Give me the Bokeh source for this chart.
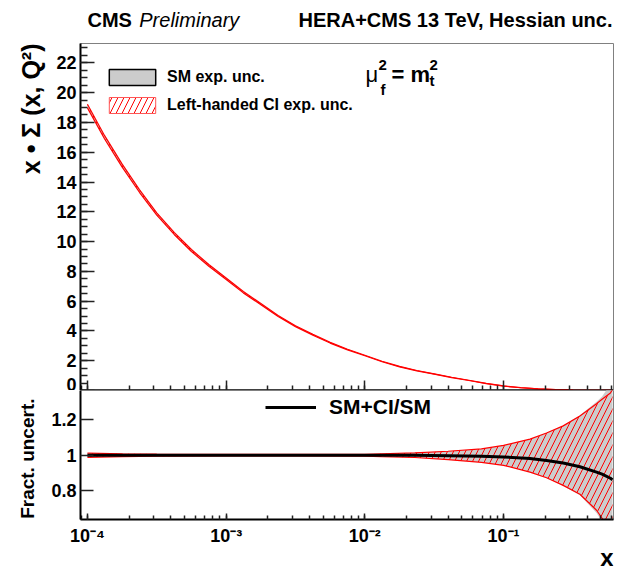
import math
from bokeh.plotting import figure
from bokeh.layouts import column, row
from bokeh.models import (ColumnDataSource, Range1d, FixedTicker, Label, Legend,
                          LegendItem, CustomJSTickFormatter)
from bokeh.core.properties import value
from bokeh.embed import file_html
from bokeh.resources import INLINE

FONT = "Liberation Sans"
NAN = float("nan")

# ---------------- data ----------------
x_top = [1e-4, 1.33e-4, 1.78e-4, 2.37e-4, 3.16e-4, 4.22e-4, 5.62e-4, 7.5e-4,
         1e-3, 1.33e-3, 1.78e-3, 2.37e-3, 3.16e-3, 4.22e-3, 5.62e-3, 7.5e-3,
         1e-2, 1.33e-2, 1.78e-2, 2.37e-2, 3.16e-2, 4.22e-2, 5.62e-2, 7.5e-2,
         0.1, 0.133, 0.178, 0.237, 0.316, 0.45, 0.61]
xsigma = [19.1, 17.0, 15.1, 13.4, 11.85, 10.55, 9.4, 8.4,
          7.5, 6.6, 5.8, 5.0, 4.32, 3.74, 3.21, 2.75,
          2.35, 1.95, 1.6, 1.33, 1.11, 0.88, 0.68, 0.47,
          0.30, 0.19, 0.11, 0.06, 0.03, 0.012, 0.004]
xsigma_unc = [0.12, 0.11, 0.10, 0.09, 0.08, 0.072, 0.065, 0.057,
              0.05, 0.045, 0.04, 0.035, 0.03, 0.027, 0.025, 0.022,
              0.02, 0.017, 0.015, 0.013, 0.012, 0.011, 0.01, 0.009,
              0.008, 0.006, 0.005, 0.004, 0.003, 0.002, 0.002]

x_ratio = [1e-4, 1.78e-4, 3.16e-4, 1e-3, 3.16e-3, 1e-2, 1.32e-2, 2.29e-2, 3.98e-2,
           6.92e-2, 0.1, 0.155, 0.204, 0.269, 0.355, 0.468, 0.513, 0.589, 0.61]
ratio_sm_ci = [1.0, 1.0, 1.0, 1.0, 1.0, 1.0, 1.0, 0.999, 0.997,
               0.994, 0.99, 0.981, 0.97, 0.956, 0.935, 0.905, 0.893, 0.870, 0.862]
ci_unc_up = [1.012, 1.008, 1.006, 1.004, 1.004, 1.005, 1.008, 1.013, 1.022,
             1.035, 1.055, 1.09, 1.125, 1.165, 1.22, 1.29, 1.315, 1.35, 1.37]
ci_unc_dn = [0.988, 0.992, 0.994, 0.996, 0.996, 0.995, 0.992, 0.987, 0.975,
             0.96, 0.943, 0.905, 0.873, 0.83, 0.78, 0.69, 0.645, 0.57, 0.55]
sm_unc_up = [1.012, 1.008, 1.006, 1.004, 1.004, 1.005, 1.008, 1.013, 1.022,
             1.035, 1.055, 1.09, 1.125, 1.167, 1.225, 1.30, 1.33, 1.40, 1.43]
sm_unc_dn = [0.988, 0.992, 0.994, 0.996, 0.996, 0.995, 0.992, 0.987, 0.975,
             0.96, 0.943, 0.905, 0.873, 0.828, 0.775, 0.675, 0.625, 0.53, 0.51]

y_ticks_top = [0, 2, 4, 6, 8, 10, 12, 14, 16, 18, 20, 22]
y_minor_top = [i * 0.5 for i in range(0, 47)]
y_ticks_bottom = [0.8, 1.0, 1.2]

# ---------------- sources ----------------
src_top = ColumnDataSource(dict(
    x=x_top, y=xsigma,
    lo=[v - u for v, u in zip(xsigma, xsigma_unc)],
    hi=[v + u for v, u in zip(xsigma, xsigma_unc)],
))
src_bot = ColumnDataSource(dict(
    x=x_ratio, r=ratio_sm_ci, ci_up=ci_unc_up, ci_dn=ci_unc_dn,
    sm_up=sm_unc_up, sm_dn=sm_unc_dn,
))

# ---------------- layout constants (pixels) ----------------
W, H = 617, 568
STRIP_W = 48            # left strip holding the rotated axis titles
MAIN_W = W - STRIP_W
BORDER_L = 78 - STRIP_W
BORDER_R = 4
HEAD_H = 43
TOP_H = 347
BOT_H = 158
FOOT_H = H - HEAD_H - TOP_H - BOT_H

x_range = Range1d(10 ** -4.05, 0.62)
GRAY = "#cccccc"
HATCH_SCALE = 12


def style_common(p):
    p.grid.visible = False
    p.outline_line_color = "#808080"
    p.outline_line_width = 1
    p.background_fill_color = "white"
    p.border_fill_color = "white"
    for ax in p.axis:
        ax.axis_line_color = "black"
        ax.axis_line_width = 2
        ax.major_tick_line_color = "#222222"
        ax.minor_tick_line_color = "#222222"
        ax.major_tick_line_width = 1.5
        ax.minor_tick_line_width = 1.5
        ax.major_tick_out = 0
        ax.minor_tick_out = 0
        ax.major_label_text_font = FONT
        ax.major_label_text_font_style = "bold"
        ax.major_label_text_color = "black"
        ax.major_label_text_font_size = "18px"


def blank(width, height, xr, yr):
    f = figure(width=width, height=height, x_range=xr, y_range=yr,
               x_axis_location=None, y_axis_location=None, output_backend="svg",
               toolbar_location=None, min_border=0, outline_line_color=None)
    f.grid.visible = False
    return f


def txt(f, x, y, s, size, style="bold", align="left", baseline="middle", angle=0.0):
    f.text(x=[x], y=[y], text=[s], text_font=value(FONT), text_font_style=style,
           text_font_size=size, text_align=align, text_baseline=baseline,
           text_color="black", angle=angle)


# ---------------- left strip: axis titles ----------------
strip = blank(STRIP_W, H, Range1d(0, STRIP_W), Range1d(0, H))
txt(strip, 30, H - 43, "x \u2022 \u03a3 (x, Q\u00b2)", "25px", align="right",
    angle=math.pi / 2)
txt(strip, 27, H - 398, "Fract. uncert.", "19px", align="right", angle=math.pi / 2)

# ---------------- header strip ----------------
p0 = blank(MAIN_W, HEAD_H, Range1d(78, 613), Range1d(HEAD_H, 0))
p0.min_border_left = BORDER_L
p0.min_border_right = BORDER_R
txt(p0, 85, 19, "CMS", "20px")
txt(p0, 137, 19, "Preliminary", "20px", style="italic")
txt(p0, 612, 19, "HERA+CMS 13 TeV, Hessian unc.", "20px", align="right")

# ---------------- top panel ----------------
p1 = figure(width=MAIN_W, height=TOP_H, x_axis_type="log", x_range=x_range,
            y_range=Range1d(0, 23.3), output_backend="svg", toolbar_location=None,
            min_border_left=BORDER_L, min_border_right=BORDER_R, min_border_top=0,
            min_border_bottom=0)
style_common(p1)
p1.yaxis.ticker = FixedTicker(ticks=y_ticks_top, minor_ticks=y_minor_top)
p1.yaxis.major_tick_in = 14
p1.yaxis.minor_tick_in = 7
p1.yaxis.major_label_standoff = 4
p1.xaxis.major_tick_in = 10
p1.xaxis.minor_tick_in = 5
p1.xaxis.formatter = CustomJSTickFormatter(code="return '';")
p1.xaxis.major_label_text_font_size = "1px"
p1.xaxis.major_label_standoff = -5

p1.varea(x="x", y1="lo", y2="hi", source=src_top, fill_color=GRAY)
p1.varea(x="x", y1="lo", y2="hi", source=src_top, fill_color=None, fill_alpha=0,
         hatch_pattern="/", hatch_color="red", hatch_scale=HATCH_SCALE, hatch_weight=1)
p1.line(x="x", y="lo", source=src_top, line_color="red", line_width=1.2)
p1.line(x="x", y="hi", source=src_top, line_color="red", line_width=1.2)

sm_key = p1.quad(left=[NAN], right=[NAN], top=[NAN], bottom=[NAN], fill_color=GRAY,
                 line_color="black", line_width=1.5)
ci_key = p1.quad(left=[NAN], right=[NAN], top=[NAN], bottom=[NAN], fill_color="white",
                 hatch_pattern="/", hatch_color="red", hatch_scale=HATCH_SCALE,
                 hatch_weight=1, line_color="#ff5555", line_width=1)
leg1 = Legend(items=[LegendItem(label="SM exp. unc.", renderers=[sm_key]),
                     LegendItem(label="Left-handed CI exp. unc.", renderers=[ci_key])],
              location=(23, 275), padding=0, margin=0, spacing=8,
              glyph_width=58, glyph_height=20, label_height=20, label_standoff=6,
              label_text_font=FONT, label_text_font_style="bold",
              label_text_font_size="16px", label_text_color="black",
              border_line_alpha=0, background_fill_alpha=0)
p1.add_layout(leg1)


def lab(p, text, x, y, size, style="bold"):
    p.add_layout(Label(x=x, y=y, x_units="screen", y_units="screen", text=text,
                       text_font=FONT, text_font_size=size, text_font_style=style,
                       text_color="black", text_align="left",
                       text_baseline="alphabetic"))


# scale label mu_f^2 = m_t^2
lab(p1, "\u03bc", 285, 316, "22px", style="normal")
lab(p1, "2", 298, 326, "15px")
lab(p1, "f", 300, 301, "15px")
lab(p1, "= m", 311, 316, "22px")
lab(p1, "2", 349, 326, "15px")
lab(p1, "t", 349, 310, "15px")

# ---------------- bottom panel ----------------
p2 = figure(width=MAIN_W, height=BOT_H, x_axis_type="log", x_range=x_range,
            y_range=Range1d(0.638, 1.364), output_backend="svg",
            toolbar_location=None, min_border_left=BORDER_L, min_border_right=BORDER_R,
            min_border_top=0, min_border_bottom=BOT_H - 133)
style_common(p2)
p2.yaxis.ticker = FixedTicker(ticks=y_ticks_bottom, minor_ticks=[])
p2.yaxis.major_tick_in = 13
p2.yaxis.major_label_standoff = 4
p2.yaxis.formatter = CustomJSTickFormatter(
    code="const s = tick.toFixed(1); return s.endsWith('.0') ? s.slice(0, -2) : s;")
p2.xaxis.major_tick_in = 6
p2.xaxis.minor_tick_in = 4
p2.xaxis.major_label_standoff = 6
p2.xaxis.formatter = CustomJSTickFormatter(code="""
const e = Math.round(Math.log10(tick));
const sup = {"-": "\u207b", "0": "\u2070", "1": "\u00b9", "2": "\u00b2", "3": "\u00b3",
             "4": "\u2074", "5": "\u2075", "6": "\u2076", "7": "\u2077", "8": "\u2078", "9": "\u2079"};
return "10" + String(e).split("").map(c => sup[c]).join("");
""")

p2.varea(x="x", y1="sm_dn", y2="sm_up", source=src_bot, fill_color=GRAY)
p2.varea(x="x", y1="ci_dn", y2="ci_up", source=src_bot, fill_color=None, fill_alpha=0,
         hatch_pattern="/", hatch_color="red", hatch_scale=HATCH_SCALE, hatch_weight=1)
p2.line(x="x", y="ci_up", source=src_bot, line_color="red", line_width=1.2)
p2.line(x="x", y="ci_dn", source=src_bot, line_color="red", line_width=1.2)
ratio_line = p2.line(x="x", y="r", source=src_bot, line_color="black", line_width=3)

leg2 = Legend(items=[LegendItem(label="SM+CI/SM", renderers=[ratio_line])],
              location=(185, 100), padding=0, margin=0, spacing=0,
              glyph_width=51, glyph_height=24, label_height=24, label_standoff=13,
              label_text_font=FONT, label_text_font_style="bold",
              label_text_font_size="21px", label_text_color="black",
              border_line_alpha=0, background_fill_alpha=0)
p2.add_layout(leg2)

# ---------------- footer strip: x-axis title ----------------
p3 = blank(MAIN_W, FOOT_H, Range1d(78, 613), Range1d(H, H - FOOT_H))
p3.min_border_left = BORDER_L
p3.min_border_right = BORDER_R
txt(p3, 613, 557, "x", "24px", align="right")

layout = row(strip, column(p0, p1, p2, p3, spacing=0), spacing=0)
open("out.html", "w").write(file_html(layout, INLINE))
